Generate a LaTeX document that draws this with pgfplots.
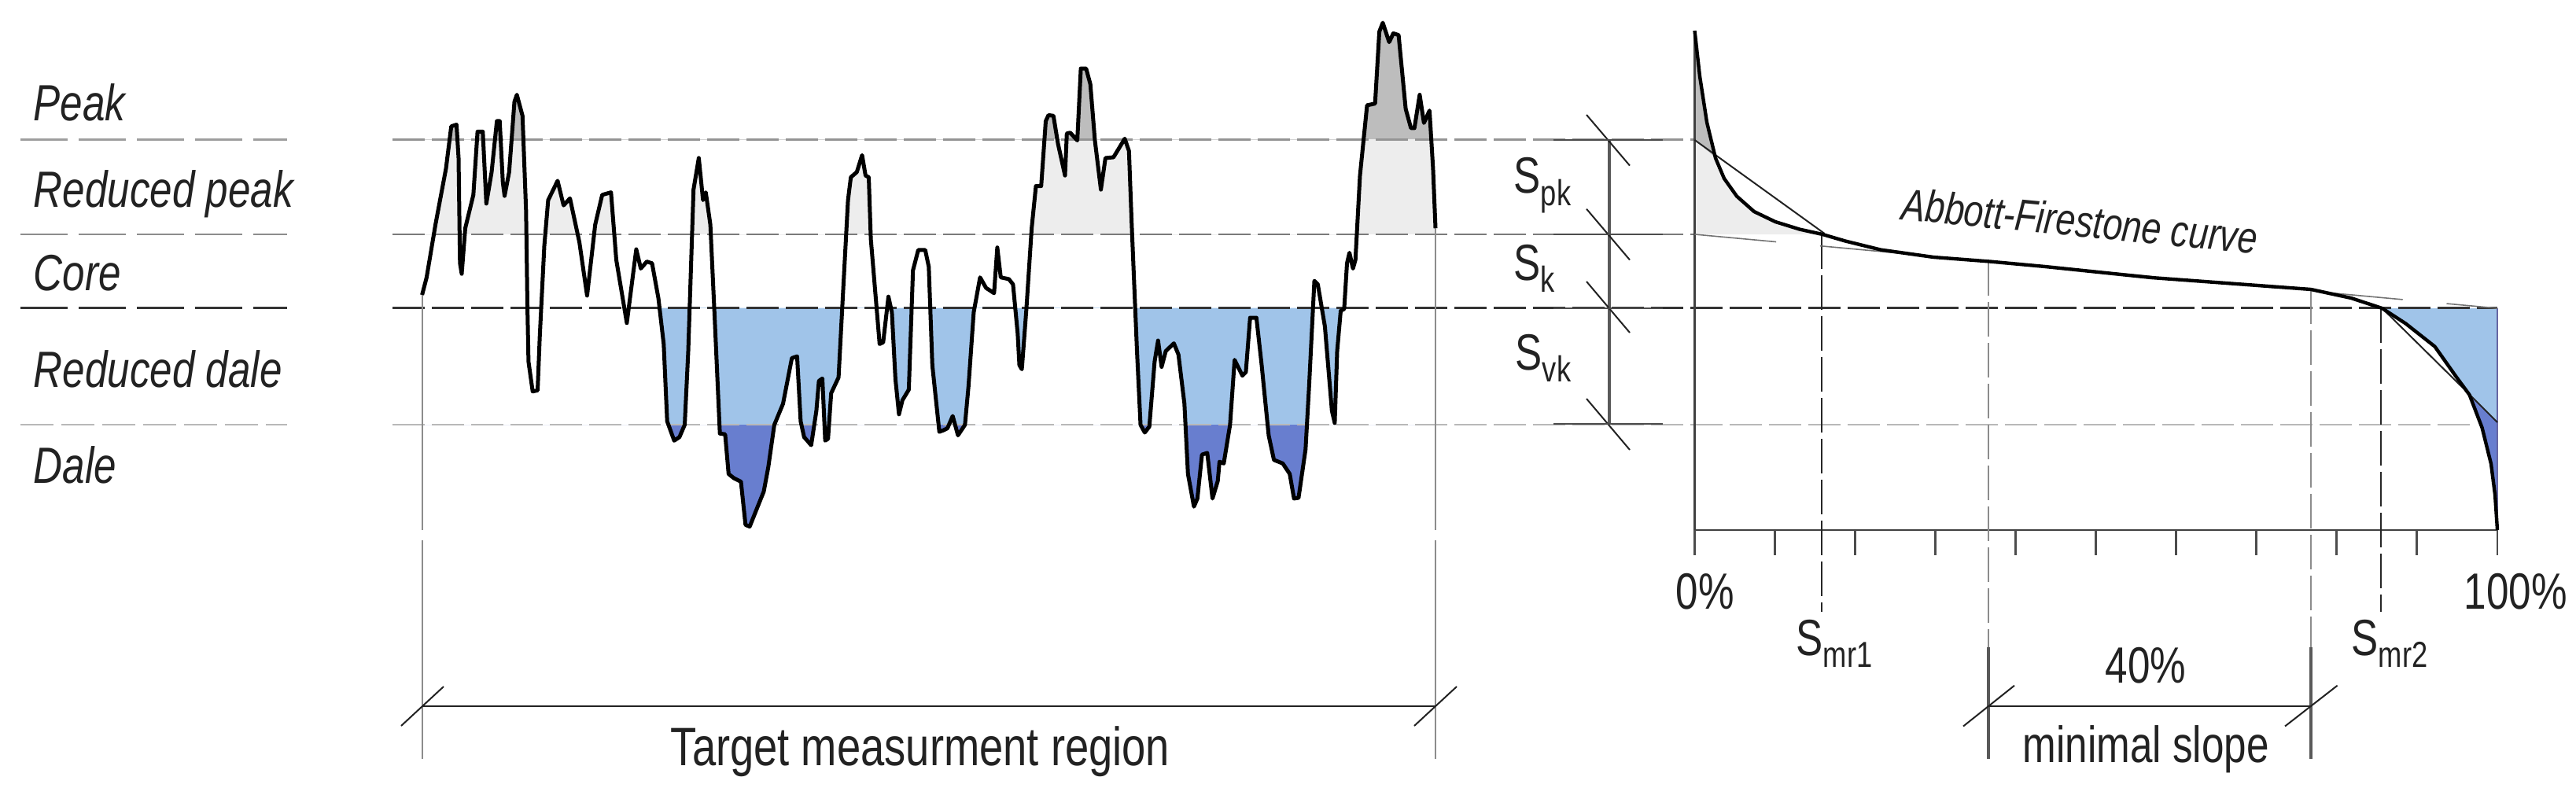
\documentclass[border=0pt]{standalone}
\usepackage{fontspec}
\setmainfont[FakeStretch=0.79]{Liberation Sans}
\usepackage{pgfplots}
\pgfplotsset{compat=1.18}
\usepackage{pgfplotstable}

\definecolor{lgray}{HTML}{EDEDED}
\definecolor{dgray}{HTML}{BDBDBD}
\definecolor{lblue}{HTML}{A0C4E9}
\definecolor{dblue}{HTML}{687ECF}
\definecolor{ink}{HTML}{222222}

% surface profile in pixels
\pgfplotstableread{
x y
536.6 375
542.4 352.7
553.6 285.7
567 214.3
573.7 160.7
580.4 158.5
583 200.9
584.8 334.8
587 348.2
591.5 290.2
601.8 247.8
607.1 167.4
613.8 167.4
618.3 258.9
625 218.8
631.7 154
635.3 154
639.3 232.1
641.5 249.1
647.3 218.8
654 129.5
657.1 120.5
664.3 147.3
668.8 267.9
670.5 388.4
671.9 459.8
677.2 497.8
683.5 496.4
686.2 428.6
692 312.5
696.9 254.5
708.9 229.9
716.5 261.2
724.6 252.2
736.6 308
746.4 375.9
756.7 285.7
765.6 247.8
776.8 244.6
783.5 330.4
796.9 410.7
808.9 317
814.7 341.5
822.3 332.6
829 334.8
837.1 379.5
843.8 437.5
848.2 535.7
857.1 560.3
863.8 555.8
870.5 540.2
875 446.4
881.7 241.1
888.4 200.9
893.8 254.5
897.3 244.6
903.1 285.7
908.5 401.8
915.2 551.3
921.9 552.2
926.3 602.7
933 608
942 612.5
947.8 667.4
953.1 669.6
971 625
976.8 593.8
984.4 540.2
995.5 513.4
1006.7 455.4
1013.4 453.1
1017.9 535.7
1022.3 555.8
1031.3 566.1
1037.9 522.3
1041.1 484.4
1045.5 481.3
1049.1 560.3
1052.7 558
1056.7 500
1066.1 479.9
1071.4 379.5
1078.1 254.5
1081.7 225.4
1089.3 218.8
1096 197.3
1100.4 223.2
1104.5 225.4
1107.1 303.6
1118.3 437.5
1122.8 435.3
1129.5 377.2
1133.9 397.3
1138.4 482.1
1142.9 526.8
1147.3 508.9
1155.4 495.5
1160.7 343.8
1167.4 317.9
1176.3 317.9
1180.8 339.3
1185.3 464.3
1194.2 549.1
1200 546.9
1204.5 544.6
1211.2 529
1217.9 553.6
1226.8 540.2
1231.3 491.1
1237.9 397.3
1246 352.7
1253.6 366.1
1263.8 372.8
1267.9 314.7
1272.3 352.7
1282.6 354.9
1287.9 361.6
1293.8 424.1
1296 464.3
1299.1 469.6
1304.9 392.9
1311.6 290.2
1317 236.6
1323.7 236.6
1329.5 154
1333 146.4
1339.3 147.3
1345.1 183
1354 223.2
1356.3 169.6
1360.7 168.8
1369.6 178.6
1374.1 87.1
1380.8 87.1
1386.2 107.1
1392 178.6
1399.6 241.1
1405.4 200.9
1415.6 200
1421.9 189.7
1429.9 176.3
1435.3 192
1438.8 285.7
1445.5 446.4
1450 540.2
1455.4 550
1461.2 542.4
1467.9 459.8
1472.3 433
1476.8 466.5
1482.1 446.4
1492.4 436.6
1498.2 450.9
1505.8 513.4
1510.3 602.7
1517.9 644.2
1522.3 633.9
1528.1 578.1
1534.8 575.9
1541.5 633.9
1548.2 611.6
1550.4 587.1
1555.8 589.3
1563.8 540.2
1569.6 457.6
1579.5 477.7
1583.9 473.2
1589.3 404
1597.3 404
1604 464.3
1612.9 553.6
1619.6 584.8
1630.8 589.3
1639.7 602.7
1645.1 633.9
1650.9 633
1659.8 571.4
1664.3 491.1
1671 357.1
1675.4 361.6
1684.4 415.2
1693.3 522.3
1696.9 537.9
1700 446.4
1704.5 395.1
1708.9 392.9
1712.5 334.8
1715.6 321.4
1720.1 341.5
1723.2 330.4
1729 223.2
1738 133.9
1748.2 131.7
1753.6 40.2
1758 29
1766.1 53.6
1771.4 42.4
1778.1 44.6
1787.1 138.4
1793.8 162.9
1798.2 162.9
1804.9 120.5
1810.3 156.3
1817.4 140.6
1821.9 214.3
1825 290.2
}\profile

% Abbott-Firestone curve
\pgfplotstableread{
x y
2154.5 39
2161 97
2170 155.5
2181 201
2192 227
2208 249.5
2230 269
2257 282
2288 291.6
2317 298
2346 306.5
2391 317.6
2458 327
2529.5 332.5
2600 339
2735 353
2938 368
2989 379
3028.5 392
3058.5 411.5
3095.5 440.7
3123 479.6
3139.5 502
3155.6 544
3167 590
3172 629
3175 674
}\abbott

\tikzset{
  lab/.style={anchor=base west, inner sep=0pt, text=ink, font=\fontsize{16.2}{18}\selectfont},
  thinl/.style={ink, line width=0.5pt},
}
\newcommand{\sub}[1]{\raisebox{-0.45ex}{\fontsize{11.5}{12}\selectfont #1}}

\begin{document}
\begin{tikzpicture}
\begin{axis}[
  scale only axis,
  width=818.75pt, height=254pt,
  xmin=0, xmax=3275, ymin=0, ymax=1016,
  y dir=reverse,
  hide axis,
  clip=false,
]
  % bands of the profile: each polygon closes on its level, the clip keeps one band
  \begin{scope}
    \clip (536.6,0) rectangle (1825,177.5);
    \addplot[fill=dgray, draw=none] table {\profile} -- (1825,177.5) -- (536.6,177.5) -- cycle;
  \end{scope}
  \begin{scope}
    \clip (536.6,177.5) rectangle (1825,298);
    \addplot[fill=lgray, draw=none] table {\profile} -- (1825,298) -- (536.6,298) -- cycle;
  \end{scope}
  \begin{scope}
    \clip (838,391.5) rectangle (1114,540);
    \addplot[fill=lblue, draw=none] table {\profile} -- (1825,391.5) -- (536.6,391.5) -- cycle;
  \end{scope}
  \begin{scope}
    \clip (1130,391.5) rectangle (1704.5,540);
    \addplot[fill=lblue, draw=none] table {\profile} -- (1825,391.5) -- (536.6,391.5) -- cycle;
  \end{scope}
  \begin{scope}
    \clip (536.6,540) rectangle (1825,700);
    \addplot[fill=dblue, draw=none] table {\profile} -- (1825,540) -- (536.6,540) -- cycle;
  \end{scope}

  % fills of the right hand curve
  \addplot[fill=dgray, draw=none] coordinates {(2154.5,39) (2161,97) (2170,155.5) (2181,201) (2183.5,203) (2154.5,178)} --cycle;
  \addplot[fill=lgray, draw=none] coordinates {(2154.5,178) (2183.5,203) (2192,227) (2208,249.5) (2230,269) (2257,282) (2288,291.6) (2317,298) (2154.5,298)} --cycle;
  \addplot[fill=lblue, draw=none] coordinates {(3028.5,392) (3058.5,411.5) (3095.5,440.7) (3123,479.6) (3139.5,502) (3175,537) (3175,392)} --cycle;
  \addplot[fill=dblue, draw=none] coordinates {(3139.5,502) (3155.6,544) (3167,590) (3172,629) (3175,674) (3175,537)} --cycle;

  % level lines, left stub
  \addplot[black!38, line width=0.6pt, dash pattern=on 15pt off 3.5pt] coordinates {(26,177.5) (365,177.5)};
  \addplot[black!45, line width=0.6pt, dash pattern=on 15pt off 3.5pt] coordinates {(26,298) (365,298)};
  \addplot[black!80, line width=0.7pt, dash pattern=on 15pt off 3.5pt] coordinates {(26,391.5) (365,391.5)};
  \addplot[black!28, line width=0.6pt, dash pattern=on 10.5pt off 2.5pt] coordinates {(26,540) (365,540)};
  % level lines across the charts
  \addplot[black!42, line width=0.6pt, dash pattern=on 10.3pt off 2.2pt] coordinates {(499,177.5) (2154.5,177.5)};
  \addplot[black!52, line width=0.6pt, dash pattern=on 10.3pt off 2.2pt] coordinates {(499,298) (2154.5,298)};
  \addplot[black!80, line width=0.7pt, dash pattern=on 10.3pt off 2.2pt] coordinates {(499,391.5) (3175,391.5)};
  \addplot[black!28, line width=0.6pt, dash pattern=on 10.3pt off 2.2pt] coordinates {(499,540) (3146,540)};

  % region limits under the profile
  \addplot[black!45, line width=0.5pt] coordinates {(537,375) (537,674)};
  \addplot[black!45, line width=0.5pt] coordinates {(537,687) (537,965)};
  \addplot[black!45, line width=0.5pt] coordinates {(1825,290) (1825,674)};
  \addplot[black!45, line width=0.5pt] coordinates {(1825,687) (1825,965)};
  \addplot[thinl] coordinates {(537,898) (1825,898)};
  \addplot[thinl] coordinates {(510,923) (564,873)};
  \addplot[thinl] coordinates {(1798,923) (1852,873)};

  \addplot[black, line width=1.25pt, line join=round] table {\profile};

  % height dimension
  \addplot[black!65, line width=0.8pt] coordinates {(2046,178) (2046,539)};
  \addplot[thinl] coordinates {(2017,146) (2072,210.6)};
  \addplot[thinl] coordinates {(2017,265.7) (2072,330.5)};
  \addplot[thinl] coordinates {(2017,358) (2072,423)};
  \addplot[thinl] coordinates {(2017,507) (2072,572)};
  \addplot[black!70, line width=0.5pt] coordinates {(1975,178) (2114,178)};
  \addplot[black!70, line width=0.5pt] coordinates {(1975,298) (2114,298)};
  \addplot[black!70, line width=0.5pt] coordinates {(1975,391.5) (2114,391.5)};
  \addplot[black!70, line width=0.5pt] coordinates {(1975,539) (2114,539)};

  % right chart axes
  \addplot[black!75, line width=0.7pt] coordinates {(2154.5,39) (2154.5,674) (3175,674)};
  \addplot[black!60!blue!60!white, line width=0.6pt] coordinates {(3175,392) (3175,674)};
  \addplot[black!70, line width=0.6pt] coordinates {(2154.5,674) (2154.5,706)};
  \addplot[black!70, line width=0.6pt] coordinates {(2256.5,674) (2256.5,706)};
  \addplot[black!70, line width=0.6pt] coordinates {(2358.5,674) (2358.5,706)};
  \addplot[black!70, line width=0.6pt] coordinates {(2460.5,674) (2460.5,706)};
  \addplot[black!70, line width=0.6pt] coordinates {(2562.5,674) (2562.5,706)};
  \addplot[black!70, line width=0.6pt] coordinates {(2664.5,674) (2664.5,706)};
  \addplot[black!70, line width=0.6pt] coordinates {(2766.5,674) (2766.5,706)};
  \addplot[black!70, line width=0.6pt] coordinates {(2868.5,674) (2868.5,706)};
  \addplot[black!70, line width=0.6pt] coordinates {(2970.5,674) (2970.5,706)};
  \addplot[black!70, line width=0.6pt] coordinates {(3072.5,674) (3072.5,706)};
  \addplot[black!70, line width=0.6pt] coordinates {(3175,674) (3175,706)};

  % percentile verticals
  \addplot[black!85, line width=0.6pt, dash pattern=on 11pt off 2pt] coordinates {(2316,298) (2316,778)};
  \addplot[black!85, line width=0.6pt, dash pattern=on 11pt off 2pt] coordinates {(3027,392) (3027,778)};
  \addplot[black!45, line width=0.6pt, dash pattern=on 11pt off 2pt] coordinates {(2528,332) (2528,823)};
  \addplot[black!45, line width=0.6pt, dash pattern=on 11pt off 2pt] coordinates {(2938,368) (2938,823)};
  \addplot[black!65, line width=0.8pt] coordinates {(2528,823) (2528,965)};
  \addplot[black!65, line width=0.8pt] coordinates {(2938,823) (2938,965)};
  \addplot[thinl] coordinates {(2528,897.6) (2938,897.6)};
  \addplot[thinl] coordinates {(2496,923.5) (2561,871.7)};
  \addplot[thinl] coordinates {(2905,923.5) (2971.6,871.7)};

  % straight fits on the curve
  \addplot[black!55, line width=0.4pt, dash pattern=on 26pt off 14pt] coordinates {(2154.5,298) (3175,392)};
  \addplot[ink, line width=0.5pt] coordinates {(2154.5,178) (2319.6,297)};
  \addplot[ink, line width=0.5pt] coordinates {(3028.5,392) (3137,499) (3175,537)};
  \addplot[black, line width=1.1pt, line join=round] table {\abbott};

  % text
  \node[lab] at (axis cs:42,154) {\itshape Peak};
  \node[lab] at (axis cs:42,264) {\itshape Reduced peak};
  \node[lab] at (axis cs:42,369) {\itshape Core};
  \node[lab] at (axis cs:42,492) {\itshape Reduced dale};
  \node[lab] at (axis cs:42,614) {\itshape Dale};

  \node[lab] at (axis cs:1924,246) {S\sub{pk}};
  \node[lab] at (axis cs:1924,356) {S\sub{k}};
  \node[lab] at (axis cs:1926,470) {S\sub{vk}};
  \node[lab] at (axis cs:2130,774.5) {0\%};
  \node[lab] at (axis cs:3132,774.5) {100\%};
  \node[lab] at (axis cs:2283,833) {S\sub{mr1}};
  \node[lab] at (axis cs:2989,833) {S\sub{mr2}};
  \node[lab] at (axis cs:2676,868) {40\%};
  \node[lab] at (axis cs:2571,969) {minimal slope};
  \node[lab, font=\fontsize{17.2}{19}\selectfont] at (axis cs:852,973) {Target measurment region};
  \node[lab, font=\fontsize{14.2}{15}\selectfont\itshape, rotate=-5.5] at (axis cs:2415.6,279) {Abbott-Firestone curve};

  % keep the page as large as the reference
  \addplot[draw=none] coordinates {(0,0) (3275,1016)};
\end{axis}
\end{tikzpicture}
\end{document}
